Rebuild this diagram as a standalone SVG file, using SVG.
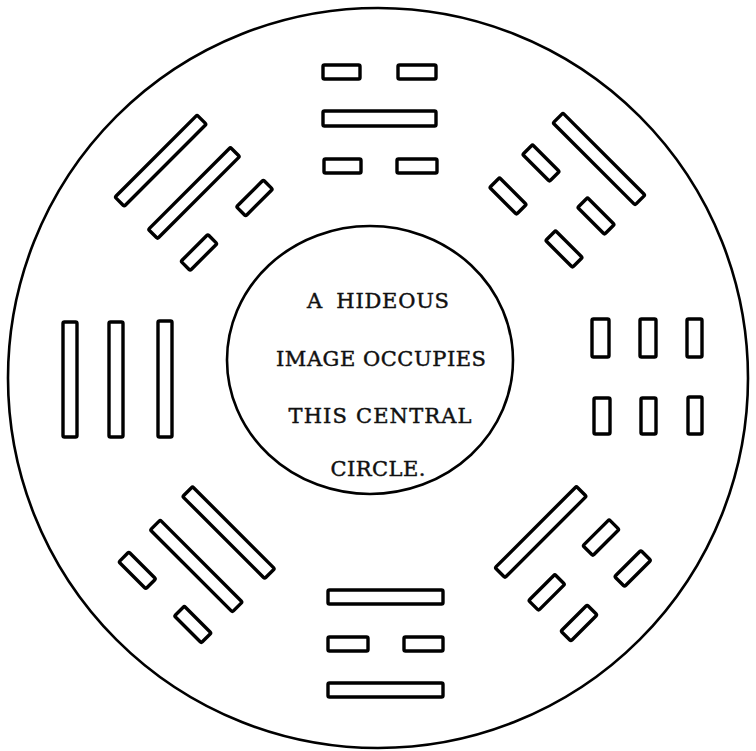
<svg xmlns="http://www.w3.org/2000/svg" width="756" height="751" viewBox="0 0 756 751">
  <style>
    .ring { fill: none; stroke: #000; stroke-width: 2.6; }
    .bar { fill: #fff; stroke: #000; stroke-width: 3.4; stroke-linejoin: round; }
    .lbl { font-family: "DejaVu Serif", "Liberation Serif", serif; font-size: 21px; fill: #111; stroke: #111; stroke-width: 0.45; text-anchor: middle; }
  </style>
  <rect width="756" height="751" fill="#fff"/>

  <g id="outer-circle">
    <circle class="ring" cx="378" cy="378" r="370"/>
  </g>

  <g id="central-circle">
    <ellipse class="ring" cx="370" cy="360" rx="143" ry="134"/>
    <text class="lbl" x="378" y="308" textLength="142" lengthAdjust="spacing" word-spacing="6">A HIDEOUS</text>
    <text class="lbl" x="381" y="366" textLength="210" lengthAdjust="spacing">IMAGE OCCUPIES</text>
    <text class="lbl" x="380" y="423" textLength="183" lengthAdjust="spacing">THIS CENTRAL</text>
    <text class="lbl" x="378" y="476" textLength="95" lengthAdjust="spacing">CIRCLE.</text>
  </g>

  <g id="trigram-top">
    <rect class="bar" x="323" y="65" width="37" height="14" rx="1.5"/>
    <rect class="bar" x="398" y="65" width="38" height="14" rx="1.5"/>
    <rect class="bar" x="323" y="111" width="113" height="15" rx="1.5"/>
    <rect class="bar" x="324" y="159" width="37" height="14" rx="1.5"/>
    <rect class="bar" x="397" y="159" width="40" height="14" rx="1.5"/>
  </g>

  <g id="trigram-bottom">
    <rect class="bar" x="328" y="590" width="115" height="14" rx="1.5"/>
    <rect class="bar" x="328" y="637" width="40" height="14" rx="1.5"/>
    <rect class="bar" x="404" y="637" width="39" height="14" rx="1.5"/>
    <rect class="bar" x="328" y="683" width="115" height="14" rx="1.5"/>
  </g>

  <g id="trigram-left">
    <rect class="bar" x="63" y="322" width="14" height="115" rx="1.5"/>
    <rect class="bar" x="109" y="322" width="14" height="115" rx="1.5"/>
    <rect class="bar" x="158" y="321" width="14" height="116" rx="1.5"/>
  </g>

  <g id="trigram-right">
    <rect class="bar" x="592" y="319" width="17" height="38" rx="1.5"/>
    <rect class="bar" x="640" y="319" width="16" height="38" rx="1.5"/>
    <rect class="bar" x="687" y="319" width="15" height="38" rx="1.5"/>
    <rect class="bar" x="594" y="398" width="16" height="36" rx="1.5"/>
    <rect class="bar" x="641" y="398" width="15" height="36" rx="1.5"/>
    <rect class="bar" x="688" y="397" width="14" height="37" rx="1.5"/>
  </g>

  <g id="trigram-upper-left">
    <rect class="bar" x="103" y="154" width="116" height="13" rx="1.5" transform="rotate(-45 161 161)"/>
    <rect class="bar" x="136" y="186.5" width="116" height="13" rx="1.5" transform="rotate(-45 194 193)"/>
    <rect class="bar" x="235.5" y="191.5" width="38" height="13" rx="1.5" transform="rotate(-45 254.5 198)"/>
    <rect class="bar" x="180" y="246" width="38" height="13" rx="1.5" transform="rotate(-45 199 252.5)"/>
  </g>

  <g id="trigram-upper-right">
    <rect class="bar" x="541" y="152" width="116" height="14" rx="1.5" transform="rotate(45 599 159)"/>
    <rect class="bar" x="522" y="156" width="38" height="14" rx="1.5" transform="rotate(45 541 163)"/>
    <rect class="bar" x="577" y="209" width="38" height="14" rx="1.5" transform="rotate(45 596 216)"/>
    <rect class="bar" x="489" y="189" width="38" height="14" rx="1.5" transform="rotate(45 508 196)"/>
    <rect class="bar" x="545" y="242" width="38" height="14" rx="1.5" transform="rotate(45 564 249)"/>
  </g>

  <g id="trigram-lower-left">
    <rect class="bar" x="170.6" y="525.6" width="116" height="14" rx="1.5" transform="rotate(45 228.6 532.6)"/>
    <rect class="bar" x="138.3" y="559" width="116" height="14" rx="1.5" transform="rotate(45 196.3 566)"/>
    <rect class="bar" x="118.3" y="563.4" width="38" height="14" rx="1.5" transform="rotate(45 137.3 570.4)"/>
    <rect class="bar" x="173.8" y="617.5" width="38" height="14" rx="1.5" transform="rotate(45 192.8 624.5)"/>
  </g>

  <g id="trigram-lower-right">
    <rect class="bar" x="483.2" y="525" width="115" height="14" rx="1.5" transform="rotate(-45 540.7 532)"/>
    <rect class="bar" x="582.5" y="530.6" width="37" height="14" rx="1.5" transform="rotate(-45 601 537.6)"/>
    <rect class="bar" x="614.2" y="561.5" width="37" height="14" rx="1.5" transform="rotate(-45 632.7 568.5)"/>
    <rect class="bar" x="528.2" y="585.4" width="37" height="14" rx="1.5" transform="rotate(-45 546.7 592.4)"/>
    <rect class="bar" x="560.5" y="616" width="37" height="14" rx="1.5" transform="rotate(-45 579 623)"/>
  </g>
</svg>
